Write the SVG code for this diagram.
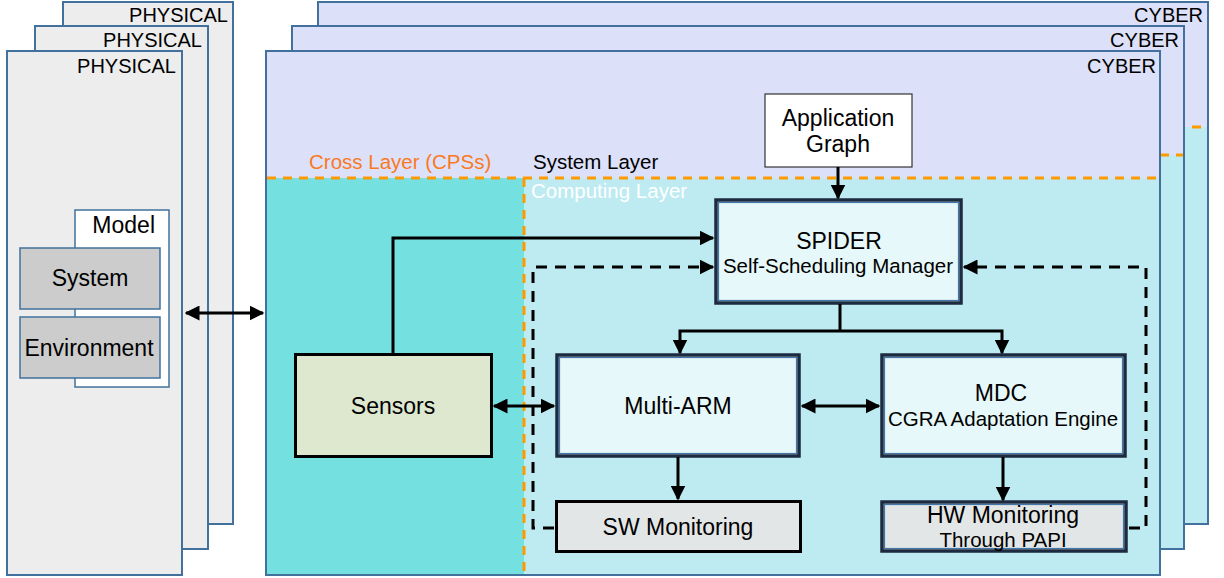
<svg xmlns="http://www.w3.org/2000/svg" width="1224" height="578" viewBox="0 0 1224 578">
<defs>
<style>
text{font-family:"Liberation Sans",Arial,sans-serif;fill:#000}
.layer{stroke:#41719c;stroke-width:2}
.phys{fill:#ededed}
.cyb{fill:#dde0f9}
.comp{fill:#bdebf1}
.odash{stroke:#ff9900;stroke-width:3;stroke-dasharray:9,7;fill:none}
.tag{font-size:20px}
.lbl{font-size:23px}
.sub{font-size:20.5px}
.blk{fill:#e6f8f9;stroke:#1c2b40;stroke-width:3.5}
.inner{fill:none;stroke:#4477a8;stroke-width:1.2}
.con{stroke:#000;stroke-width:3;fill:none}
.dash{stroke:#000;stroke-width:3;fill:none;stroke-dasharray:11,8}
</style>
<marker id="ah" viewBox="0 0 10 10" refX="9" refY="5" markerWidth="5" markerHeight="5" orient="auto-start-reverse" markerUnits="strokeWidth">
<path d="M0,0 L10,5 L0,10 z" fill="#000"/>
</marker>
</defs>

<!-- Physical layers -->
<g id="physical-layers">
<rect class="layer phys" x="63" y="2" width="170" height="522"/>
<text class="tag" x="228" y="22" text-anchor="end">PHYSICAL</text>
<rect class="layer phys" x="35" y="26" width="173" height="523"/>
<text class="tag" x="202" y="47" text-anchor="end">PHYSICAL</text>
<rect class="layer phys" x="7" y="51" width="175" height="524"/>
<text class="tag" x="176" y="73" text-anchor="end">PHYSICAL</text>
</g>

<g id="model">
<rect x="75" y="210" width="94" height="177" fill="#fff" stroke="#41719c" stroke-width="1.5"/>
<text class="lbl" x="155" y="233" text-anchor="end">Model</text>
</g>
<g id="system">
<rect x="20" y="248" width="140" height="61" fill="#cccccc" stroke="#41719c" stroke-width="1.5"/>
<text class="lbl" x="90" y="286" text-anchor="middle">System</text>
</g>
<g id="environment">
<rect x="20" y="317" width="140" height="61" fill="#cccccc" stroke="#41719c" stroke-width="1.5"/>
<text class="lbl" x="89" y="356" text-anchor="middle">Environment</text>
</g>

<!-- Cyber layers -->
<g id="cyber-layers">
<rect class="layer cyb" x="318" y="2" width="890" height="522"/>
<rect class="comp" x="1185" y="127" width="22" height="396"/>
<line class="odash" x1="1160" y1="127" x2="1207" y2="127"/>
<text class="tag" x="1203" y="22" text-anchor="end">CYBER</text>
<rect class="layer cyb" x="292" y="26" width="892" height="523"/>
<rect class="comp" x="1161" y="155" width="22" height="393"/>
<line class="odash" x1="1160" y1="155" x2="1183" y2="155"/>
<text class="tag" x="1179" y="47" text-anchor="end">CYBER</text>
<rect class="layer cyb" x="266" y="51" width="894" height="524"/>
<rect x="267" y="178" width="257" height="396" fill="#74e0df"/>
<rect class="comp" x="524" y="178" width="635" height="396"/>
<line class="odash" x1="267" y1="178" x2="1159" y2="178"/>
<line class="odash" x1="524" y1="178" x2="524" y2="574"/>
<rect x="266" y="51" width="894" height="524" fill="none" stroke="#41719c" stroke-width="2"/>
<text class="tag" x="1156" y="73" text-anchor="end">CYBER</text>
<text class="sub" x="309" y="169" style="fill:#f97a1f">Cross Layer (CPSs)</text>
<text class="sub" x="533" y="169">System Layer</text>
<text class="sub" x="531" y="198" style="fill:#fff">Computing Layer</text>
</g>

<!-- Nodes -->
<g id="application-graph">
<rect x="765" y="94" width="147" height="73" fill="#fff" stroke="#333" stroke-width="1.2"/>
<text class="lbl" x="838" y="126" text-anchor="middle">Application</text>
<text class="lbl" x="838" y="152" text-anchor="middle">Graph</text>
</g>
<g id="spider">
<rect class="blk" x="716" y="200" width="245" height="103"/>
<rect class="inner" x="718.5" y="202.5" width="240" height="98"/>
<text class="lbl" x="839" y="249" text-anchor="middle">SPIDER</text>
<text class="sub" x="838" y="273" text-anchor="middle">Self-Scheduling Manager</text>
</g>
<g id="sensors">
<rect x="295.5" y="354.5" width="196" height="102" fill="#dde8cf" stroke="#000" stroke-width="3"/>
<text class="lbl" x="393" y="414" text-anchor="middle">Sensors</text>
</g>
<g id="multi-arm">
<rect class="blk" x="557" y="355" width="242" height="101"/>
<rect class="inner" x="559.5" y="357.5" width="237" height="96"/>
<text class="lbl" x="678" y="414" text-anchor="middle">Multi-ARM</text>
</g>
<g id="mdc">
<rect class="blk" x="882" y="355" width="243" height="101"/>
<rect class="inner" x="884.5" y="357.5" width="238" height="96"/>
<text class="lbl" x="1001" y="401" text-anchor="middle">MDC</text>
<text class="sub" x="1003" y="426" text-anchor="middle">CGRA Adaptation Engine</text>
</g>
<g id="sw-monitoring">
<rect x="556.5" y="501.5" width="244" height="50" fill="#e3e6e6" stroke="#000" stroke-width="3"/>
<text class="lbl" x="678" y="535" text-anchor="middle">SW Monitoring</text>
</g>
<g id="hw-monitoring">
<rect x="882" y="502" width="244" height="49" fill="#e3e6e6" stroke="#1c2b40" stroke-width="3.5"/>
<rect class="inner" x="884.5" y="504.5" width="239" height="44"/>
<text class="lbl" x="1003" y="523" text-anchor="middle">HW Monitoring</text>
<text class="sub" x="1003" y="547" text-anchor="middle">Through PAPI</text>
</g>

<!-- Connectors -->
<g id="connectors">
<line class="con" x1="186" y1="313" x2="263" y2="313" marker-start="url(#ah)" marker-end="url(#ah)"/>
<line class="con" x1="838" y1="167" x2="838" y2="198" marker-end="url(#ah)"/>
<polyline class="con" points="393,354 393,238 713,238" marker-end="url(#ah)"/>
<polyline class="dash" points="554,528 533,528 533,267 713,267" marker-end="url(#ah)"/>
<polyline class="dash" points="1129,528 1146,528 1146,267 964,267" marker-end="url(#ah)"/>
<line class="con" x1="840" y1="304" x2="840" y2="331" stroke-width="4"/>
<polyline class="con" points="680,353 680,331 1002,331 1002,353" marker-start="url(#ah)" marker-end="url(#ah)"/>
<line class="con" x1="494" y1="406" x2="554" y2="406" marker-start="url(#ah)" marker-end="url(#ah)"/>
<line class="con" x1="802" y1="406" x2="879" y2="406" marker-start="url(#ah)" marker-end="url(#ah)"/>
<line class="con" x1="678" y1="457" x2="678" y2="499" marker-end="url(#ah)"/>
<line class="con" x1="1003" y1="457" x2="1003" y2="500" marker-end="url(#ah)"/>
</g>
</svg>
